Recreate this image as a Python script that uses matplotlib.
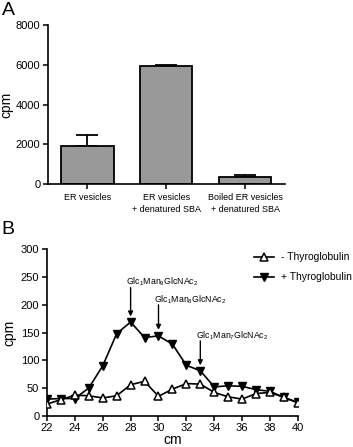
import matplotlib
matplotlib.use('Agg')
import matplotlib.pyplot as plt
import numpy as np

plt.rcParams['font.family'] = ['Liberation Sans', 'DejaVu Sans']
plt.rcParams['mathtext.fontset'] = 'custom'
plt.rcParams['mathtext.rm'] = 'Liberation Sans'
plt.rcParams['mathtext.it'] = 'Liberation Sans'

# Panel A data
categories = ['ER vesicles', 'ER vesicles\n+ denatured SBA', 'Boiled ER vesicles\n+ denatured SBA']
cpm_bars = [1940, 5930, 360]
cpm_err = [530, 40, 100]

# Panel B data
fraction_cm = list(range(22, 41))
minus_thyro = [21, 29, 37, 36, 32, 36, 56, 62, 35, 48, 58, 57, 42, 34, 30, 40, 42, 33, 23]
plus_thyro = [30, 31, 31, 50, 90, 148, 169, 141, 144, 129, 91, 81, 52, 54, 53, 47, 44, 33, 24]

# annotations: (x position, label y, arrow start, arrow end, label)
peaks = [(28, 241, 231, 179, r'Glc$_1$Man$_9$GlcNAc$_2$'),
         (30, 210, 200, 155, r'Glc$_1$Man$_8$GlcNAc$_2$'),
         (33, 144, 135, 91, r'Glc$_1$Man$_7$GlcNAc$_2$')]

fig = plt.figure(figsize=(3.53, 4.47), dpi=100)

# ---- Panel A ----
axA = fig.add_axes([0.136, 0.588, 0.671, 0.356])
x = np.arange(len(categories))
axA.bar(x, cpm_bars, width=0.66, color='#999999', edgecolor='black', linewidth=1.3, zorder=2)
axA.errorbar(x, cpm_bars, yerr=[[0, 0, 0], cpm_err], fmt='none', ecolor='black',
             elinewidth=1.3, capsize=8, capthick=1.3, zorder=1)
axA.set_xlim(-0.5, 2.5)
axA.set_ylim(0, 8000)
axA.set_yticks([0, 2000, 4000, 6000, 8000])
axA.set_xticks(x)
axA.set_xticklabels(categories, fontsize=6.5, linespacing=1.35)
axA.set_ylabel('cpm', fontsize=10, labelpad=2)
axA.tick_params(axis='y', labelsize=8, length=3.5, width=1.1, pad=2)
axA.tick_params(axis='x', length=3.5, width=1.1, pad=3)
for s in ['top', 'right']:
    axA.spines[s].set_visible(False)
for s in ['left', 'bottom']:
    axA.spines[s].set_linewidth(1.2)

# ---- Panel B ----
axB = fig.add_axes([0.133, 0.07, 0.711, 0.372])
axB.plot(fraction_cm, minus_thyro, color='black', lw=1.2, marker='^', ms=5.5,
         mfc='white', mec='black', mew=1.1, label='- Thyroglobulin', zorder=3)
axB.plot(fraction_cm, plus_thyro, color='black', lw=1.2, marker='v', ms=5.5,
         mfc='black', mec='black', label='+ Thyroglobulin', zorder=2)
for xp, ylab, y0, y1, lab in peaks:
    axB.annotate('', xy=(xp, y1), xytext=(xp, y0),
                 arrowprops=dict(arrowstyle='-|>', color='black', lw=1.0,
                                 mutation_scale=7, shrinkA=0, shrinkB=0))
    axB.text(xp - 0.3, ylab, lab, fontsize=6.3, ha='left', va='center')
axB.set_xlim(22, 40)
axB.set_ylim(0, 300)
axB.set_xticks(range(22, 41, 2))
axB.set_yticks(range(0, 301, 50))
axB.set_xlabel('cm', fontsize=10, labelpad=0)
axB.set_ylabel('cpm', fontsize=10, labelpad=3)
axB.tick_params(labelsize=8, length=3.5, width=1.1, pad=2)
for s in ['top', 'right']:
    axB.spines[s].set_visible(False)
for s in ['left', 'bottom']:
    axB.spines[s].set_linewidth(1.2)
axB.legend(loc='upper left', bbox_to_anchor=(0.705, 0.447), bbox_transform=fig.transFigure,
           frameon=False, fontsize=7.5, handlelength=1.9, handletextpad=0.7,
           borderpad=0, labelspacing=0.95)

fig.text(0.005, 0.995, 'A', fontsize=14, va='top', ha='left')
fig.text(0.005, 0.505, 'B', fontsize=14, va='top', ha='left')

fig.savefig('out.png', dpi=100)
